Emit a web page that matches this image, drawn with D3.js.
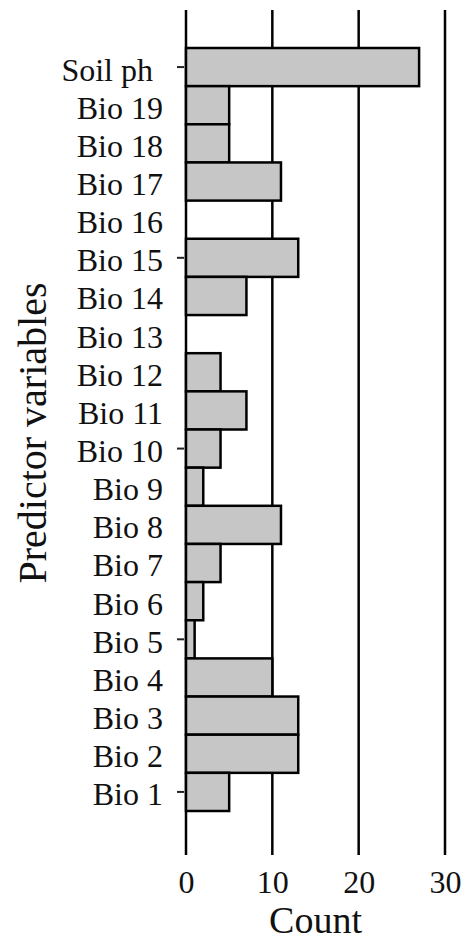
<!DOCTYPE html>
<html lang="en">
  <head>
    <meta charset="UTF-8" />
    <title>Predictor variables count</title>
  </head>
  <style>
    * {
      margin: 0;
      padding: 0;
    }
    body {
      background: #fff;
    }
    svg text {
      font-family: "Liberation Serif", "DejaVu Serif", serif;
      fill: #111;
    }
  </style>
  <body>
    <script src="https://d3js.org/d3.v7.min.js"></script>
    <script>
      // categories, top to bottom
      const variables = [
        "Soil ph", "Bio 19", "Bio 18", "Bio 17", "Bio 16", "Bio 15", "Bio 14",
        "Bio 13", "Bio 12", "Bio 11", "Bio 10", "Bio 9", "Bio 8", "Bio 7",
        "Bio 6", "Bio 5", "Bio 4", "Bio 3", "Bio 2", "Bio 1"
      ];
      const counts = [27, 5, 5, 11, 0, 13, 7, 0, 4, 7, 4, 2, 11, 4, 2, 1, 10, 13, 13, 5];
      const xTicks = [0, 10, 20, 30];
      // categories that carry a small tick mark
      const markedVariables = ["Soil ph", "Bio 15", "Bio 10", "Bio 5", "Bio 1"];

      const data = variables.map((v, i) => ({ name: v, value: counts[i] }));

      const width = 463;
      const height = 948;

      const svg = d3
        .select("body")
        .append("svg")
        .attr("width", width)
        .attr("height", height);

      const xScale = d3.scaleLinear().domain([0, 30]).range([186, 445]);
      const yScale = d3.scaleBand().domain(variables).range([48, 811]).padding(0);

      // vertical grid lines (behind bars)
      svg
        .append("g")
        .selectAll("line")
        .data(xTicks)
        .join("line")
        .attr("x1", (d) => xScale(d))
        .attr("x2", (d) => xScale(d))
        .attr("y1", 10)
        .attr("y2", 855)
        .attr("stroke", "#000")
        .attr("stroke-width", 2.5);

      // bars
      svg
        .append("g")
        .selectAll("rect")
        .data(data.filter((d) => d.value > 0))
        .join("rect")
        .attr("x", xScale(0))
        .attr("y", (d) => yScale(d.name))
        .attr("width", (d) => xScale(d.value) - xScale(0))
        .attr("height", yScale.bandwidth())
        .attr("fill", "#c6c6c6")
        .attr("stroke", "#000")
        .attr("stroke-width", 2.5);

      // x axis tick labels
      const xAxis = d3.axisBottom(xScale).tickValues(xTicks).tickSize(0).tickPadding(0);
      const gx = svg.append("g").attr("transform", "translate(0,870)").call(xAxis);
      gx.select(".domain").remove();
      gx.selectAll("text")
        .attr("dy", "0.72em")
        .attr("font-size", "32px")
        .style("font-family", '"Liberation Serif", serif')
        .attr("fill", "#111");

      // y axis labels
      const yAxis = d3.axisLeft(yScale).tickSize(0).tickPadding(0);
      const gy = svg.append("g").attr("transform", "translate(163,0)").call(yAxis);
      gy.select(".domain").remove();
      gy.selectAll("text")
        .attr("dy", "0.42em")
        .attr("x", (d) => (d === "Soil ph" ? -10 : 0))
        .attr("font-size", "32px")
        .style("font-family", '"Liberation Serif", serif')
        .attr("fill", "#111");

      // small tick marks on some categories
      svg
        .append("g")
        .selectAll("line")
        .data(markedVariables)
        .join("line")
        .attr("x1", 177)
        .attr("x2", 184)
        .attr("y1", (d) => yScale(d) + yScale.bandwidth() / 2)
        .attr("y2", (d) => yScale(d) + yScale.bandwidth() / 2)
        .attr("stroke", "#222")
        .attr("stroke-width", 2);

      // axis titles
      svg
        .append("text")
        .attr("x", xScale(15))
        .attr("y", 933)
        .attr("text-anchor", "middle")
        .attr("font-size", "38px")
        .text("Count");

      svg
        .append("text")
        .attr("transform", "translate(46,433) rotate(-90)")
        .attr("text-anchor", "middle")
        .attr("font-size", "40px")
        .text("Predictor variables");
    </script>
  </body>
</html>
